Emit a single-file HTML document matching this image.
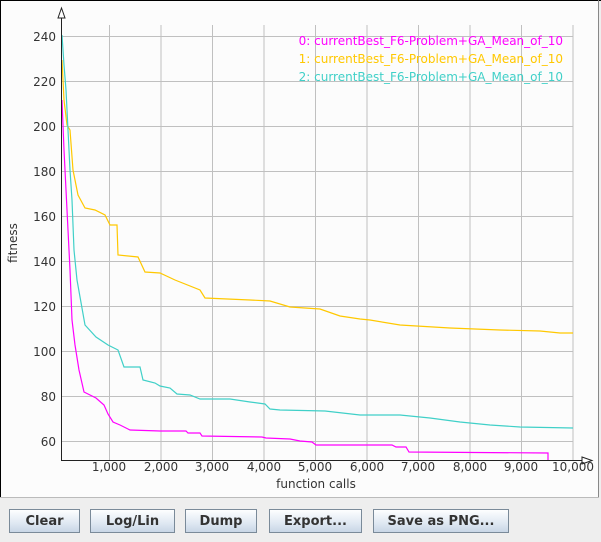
<!DOCTYPE html>
<html><head><style>
body{margin:0;width:601px;height:542px;background:#eeeeee;overflow:hidden;font-family:"DejaVu Sans","Liberation Sans",sans-serif}
.btn{position:absolute;top:509px;height:24px;border:1px solid #7a8a99;background:linear-gradient(#fdfeff,#dfe8f2 60%,#c8d6e6);font-size:13px;font-weight:bold;color:#333;display:flex;align-items:center;justify-content:center;box-sizing:border-box}
</style></head><body>
<svg width="601" height="542" style="position:absolute;left:0;top:0" font-family="DejaVu Sans, Liberation Sans, sans-serif">
<rect x="0" y="0" width="599" height="497" fill="#fcfcfc"/>
<line x1="0.5" y1="0" x2="0.5" y2="497" stroke="#000"/>
<line x1="0" y1="0.5" x2="601" y2="0.5" stroke="#000"/>
<line x1="598.5" y1="0" x2="598.5" y2="497" stroke="#888"/>
<line x1="0" y1="497.5" x2="599" y2="497.5" stroke="#bbb"/>
<g stroke="#c0c0c0" stroke-width="1">
<line x1="109.5" y1="25" x2="109.5" y2="460"/><line x1="161" y1="25" x2="161" y2="460"/><line x1="212.5" y1="25" x2="212.5" y2="460"/><line x1="264" y1="25" x2="264" y2="460"/><line x1="315.5" y1="25" x2="315.5" y2="460"/><line x1="367" y1="25" x2="367" y2="460"/><line x1="418.5" y1="25" x2="418.5" y2="460"/><line x1="470" y1="25" x2="470" y2="460"/><line x1="521.5" y1="25" x2="521.5" y2="460"/><line x1="573" y1="25" x2="573" y2="460"/>
<line x1="61" y1="36.5" x2="573" y2="36.5"/><line x1="61" y1="81.5" x2="573" y2="81.5"/><line x1="61" y1="126.5" x2="573" y2="126.5"/><line x1="61" y1="171.5" x2="573" y2="171.5"/><line x1="61" y1="216.5" x2="573" y2="216.5"/><line x1="61" y1="261.5" x2="573" y2="261.5"/><line x1="61" y1="306.5" x2="573" y2="306.5"/><line x1="61" y1="351.5" x2="573" y2="351.5"/><line x1="61" y1="396.5" x2="573" y2="396.5"/><line x1="61" y1="441.5" x2="573" y2="441.5"/>
</g>
<g fill="none" stroke-width="1.2">
<polyline stroke="#ffc800" points="62,60 64,100 67,125 70,130 73,170 78,195 85,208 95,210 105,215 110,225 117,225 118,255 138,257 145,272 160,273 175,280 200,290 205,298 250,300 270,301 290,307 320,309 340,316 360,319 370,320 400,325 450,328 500,330 540,331 560,333 573,333"/>
<polyline stroke="#40d0c8" points="62,35 64,65 66,90 68,130 70,170 72,200 74,250 77,280 85,325 96,337 108,345 118,350 124,367 140,367 143,380 155,383 160,386 170,388 177,394 190,395 200,399 230,399 250,402 265,404 270,409 280,410 325,411 360,415 400,415 430,418 460,422 490,425 520,427 573,428"/>
<polyline stroke="#ff00ff" points="62,100 64,150 66,190 68,230 70,270 72,320 75,345 79,370 84,392 96,398 104,405 108,414 113,422 120,425 130,430 160,431 186,431 188,433 200,433 202,436 262,437 266,438 290,439 300,441 312,442 316,445 392,445 396,447 406,447 409,452 548,453 548,460"/>
</g>
<line x1="61.5" y1="8" x2="61.5" y2="460" stroke="#222"/>
<line x1="61" y1="460.5" x2="592" y2="460.5" stroke="#222"/>
<path d="M58,18 L61.5,8 L65,18 Z" fill="#fff" stroke="#222"/>
<path d="M582,457 L592,460.5 L582,464 Z" fill="#fff" stroke="#222"/>
<g font-size="12" fill="#333" text-anchor="end">
<text x="56" y="41">240</text><text x="56" y="86">220</text><text x="56" y="131">200</text><text x="56" y="176">180</text><text x="56" y="221">160</text><text x="56" y="266">140</text><text x="56" y="311">120</text><text x="56" y="356">100</text><text x="56" y="401">80</text><text x="56" y="446">60</text>
</g>
<g font-size="12" fill="#333" text-anchor="middle">
<text x="109" y="471">1,000</text><text x="161" y="471">2,000</text><text x="212" y="471">3,000</text><text x="264" y="471">4,000</text><text x="315" y="471">5,000</text><text x="367" y="471">6,000</text><text x="418" y="471">7,000</text><text x="470" y="471">8,000</text><text x="521" y="471">9,000</text><text x="573" y="471">10,000</text>
<text x="316" y="488">function calls</text>
<text transform="translate(17,243) rotate(-90)">fitness</text>
</g>
<g font-size="12" text-anchor="end">
<text x="563" y="45" fill="#ff00ff">0: currentBest_F6-Problem+GA_Mean_of_10</text>
<text x="563" y="63" fill="#ffc800">1: currentBest_F6-Problem+GA_Mean_of_10</text>
<text x="563" y="81" fill="#40d0c8">2: currentBest_F6-Problem+GA_Mean_of_10</text>
</g>
</svg>
<div class="btn" style="left:9px;width:71px">Clear</div>
<div class="btn" style="left:90px;width:85px">Log/Lin</div>
<div class="btn" style="left:185px;width:72px">Dump</div>
<div class="btn" style="left:269px;width:93px">Export...</div>
<div class="btn" style="left:373px;width:136px">Save as PNG...</div>
</body></html>
